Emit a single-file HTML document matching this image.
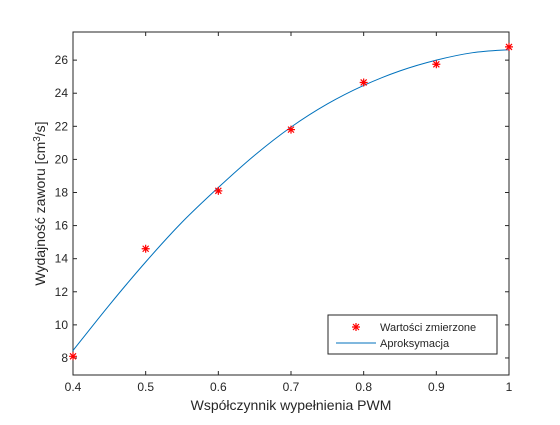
<!DOCTYPE html>
<html><head><meta charset="utf-8"><style>
body{margin:0;background:#fff;}
svg text{font-family:"Liberation Sans",sans-serif;fill:#262626;}
</style></head><body>
<svg width="560" height="420" xmlns="http://www.w3.org/2000/svg">
<rect x="0" y="0" width="560" height="420" fill="#fff"/>
<g id="plot"></g>
</svg>
<script>
const xTicks=[0.4,0.5,0.6,0.7,0.8,0.9,1];
const xTickLabels=["0.4","0.5","0.6","0.7","0.8","0.9","1"];
const yTicks=[8,10,12,14,16,18,20,22,24,26];
const measX=[0.4,0.5,0.6,0.7,0.8,0.9,1.0];
const measY=[8.1,14.6,18.1,21.8,24.65,25.75,26.8];
const fitX=[0.4,0.45,0.5,0.55,0.6,0.65,0.7,0.75,0.8,0.85,0.9,0.95,1.0];
const fitY=[8.45,11.2,13.8,16.2,18.3,20.25,21.95,23.35,24.47,25.35,26.0,26.45,26.63];
const L=73,R=509,T=32,B=375,xmin=0.4,xmax=1,ymin=6.97,ymax=27.7;
const sx=v=>L+(v-xmin)/(xmax-xmin)*(R-L);
const sy=v=>B-(v-ymin)/(ymax-ymin)*(B-T);
const g=document.getElementById('plot');
const NS='http://www.w3.org/2000/svg';
function mk(t,a){const e=document.createElementNS(NS,t);for(const k in a)e.setAttribute(k,a[k]);g.appendChild(e);return e;}
let e=mk('rect',{x:L,y:T,width:R-L,height:B-T,fill:'#fff',stroke:'#262626','stroke-width':1});


xTicks.forEach((v,i)=>{const x=sx(v);
 let t=mk('line',{x1:x,x2:x,y1:B,y2:B-4,stroke:'#262626'});
 
 
 t=mk('line',{x1:x,x2:x,y1:T,y2:T+4,stroke:'#262626'});
 
 
 const l=mk('text',{x:x,y:B+16,'text-anchor':'middle','font-size':12});l.textContent=xTickLabels[i];
 
 
});
yTicks.forEach(v=>{const y=sy(v);
 let t=mk('line',{x1:L,x2:L+4,y1:y,y2:y,stroke:'#262626'});
 
 
 t=mk('line',{x1:R,x2:R-4,y1:y,y2:y,stroke:'#262626'});
 
 
 const l=mk('text',{x:L-5,y:y+4,'text-anchor':'end','font-size':12});l.textContent=String(v);
 
 
});
const pts=fitX.map((x,i)=>[sx(x),sy(fitY[i])]);
let d='M'+pts[0][0]+','+pts[0][1];
for(let i=0;i<pts.length-1;i++){
 const p0=pts[Math.max(i-1,0)],p1=pts[i],p2=pts[i+1],p3=pts[Math.min(i+2,pts.length-1)];
 d+=` C${p1[0]+(p2[0]-p0[0])/6},${p1[1]+(p2[1]-p0[1])/6} ${p2[0]-(p3[0]-p1[0])/6},${p2[1]-(p3[1]-p1[1])/6} ${p2[0]},${p2[1]}`;
}
let p=mk('path',{d:d,fill:'none',stroke:'#0072bd','stroke-width':1});


function star(cx,cy,name){const gg=document.createElementNS(NS,'g');g.appendChild(gg);
 
 
 const d=`M${cx-4},${cy}H${cx+4}M${cx},${cy-4}V${cy+4}M${cx-3},${cy-3}L${cx+3},${cy+3}M${cx-3},${cy+3}L${cx+3},${cy-3}`;
 const pa=document.createElementNS(NS,'path');pa.setAttribute('d',d);pa.setAttribute('stroke','#ff0000');pa.setAttribute('stroke-width','1.2');gg.appendChild(pa);}
measX.forEach((x,i)=>star(sx(x),sy(measY[i]),'measured-point'));
let lg=mk('rect',{x:328,y:315,width:169,height:39,fill:'#fff',stroke:'#262626'});


star(356,327,'legend-marker-measured');
let lt=mk('text',{x:380,y:331,'font-size':11});lt.textContent='Wartości zmierzone';


let ll=mk('line',{x1:336,x2:376,y1:343,y2:343,stroke:'#0072bd'});


lt=mk('text',{x:380,y:347,'font-size':11});lt.textContent='Aproksymacja';


let xt=mk('text',{x:(L+R)/2,y:410,'text-anchor':'middle','font-size':14});xt.textContent='Współczynnik wypełnienia PWM';


let yt=mk('text',{x:0,y:0,'text-anchor':'middle','font-size':14,transform:`translate(45,${(T+B)/2}) rotate(-90)`});
yt.innerHTML='Wydajność zaworu [cm<tspan dy="-5" font-size="10">3</tspan><tspan dy="5">/s]</tspan>';


</script>
</body></html>
